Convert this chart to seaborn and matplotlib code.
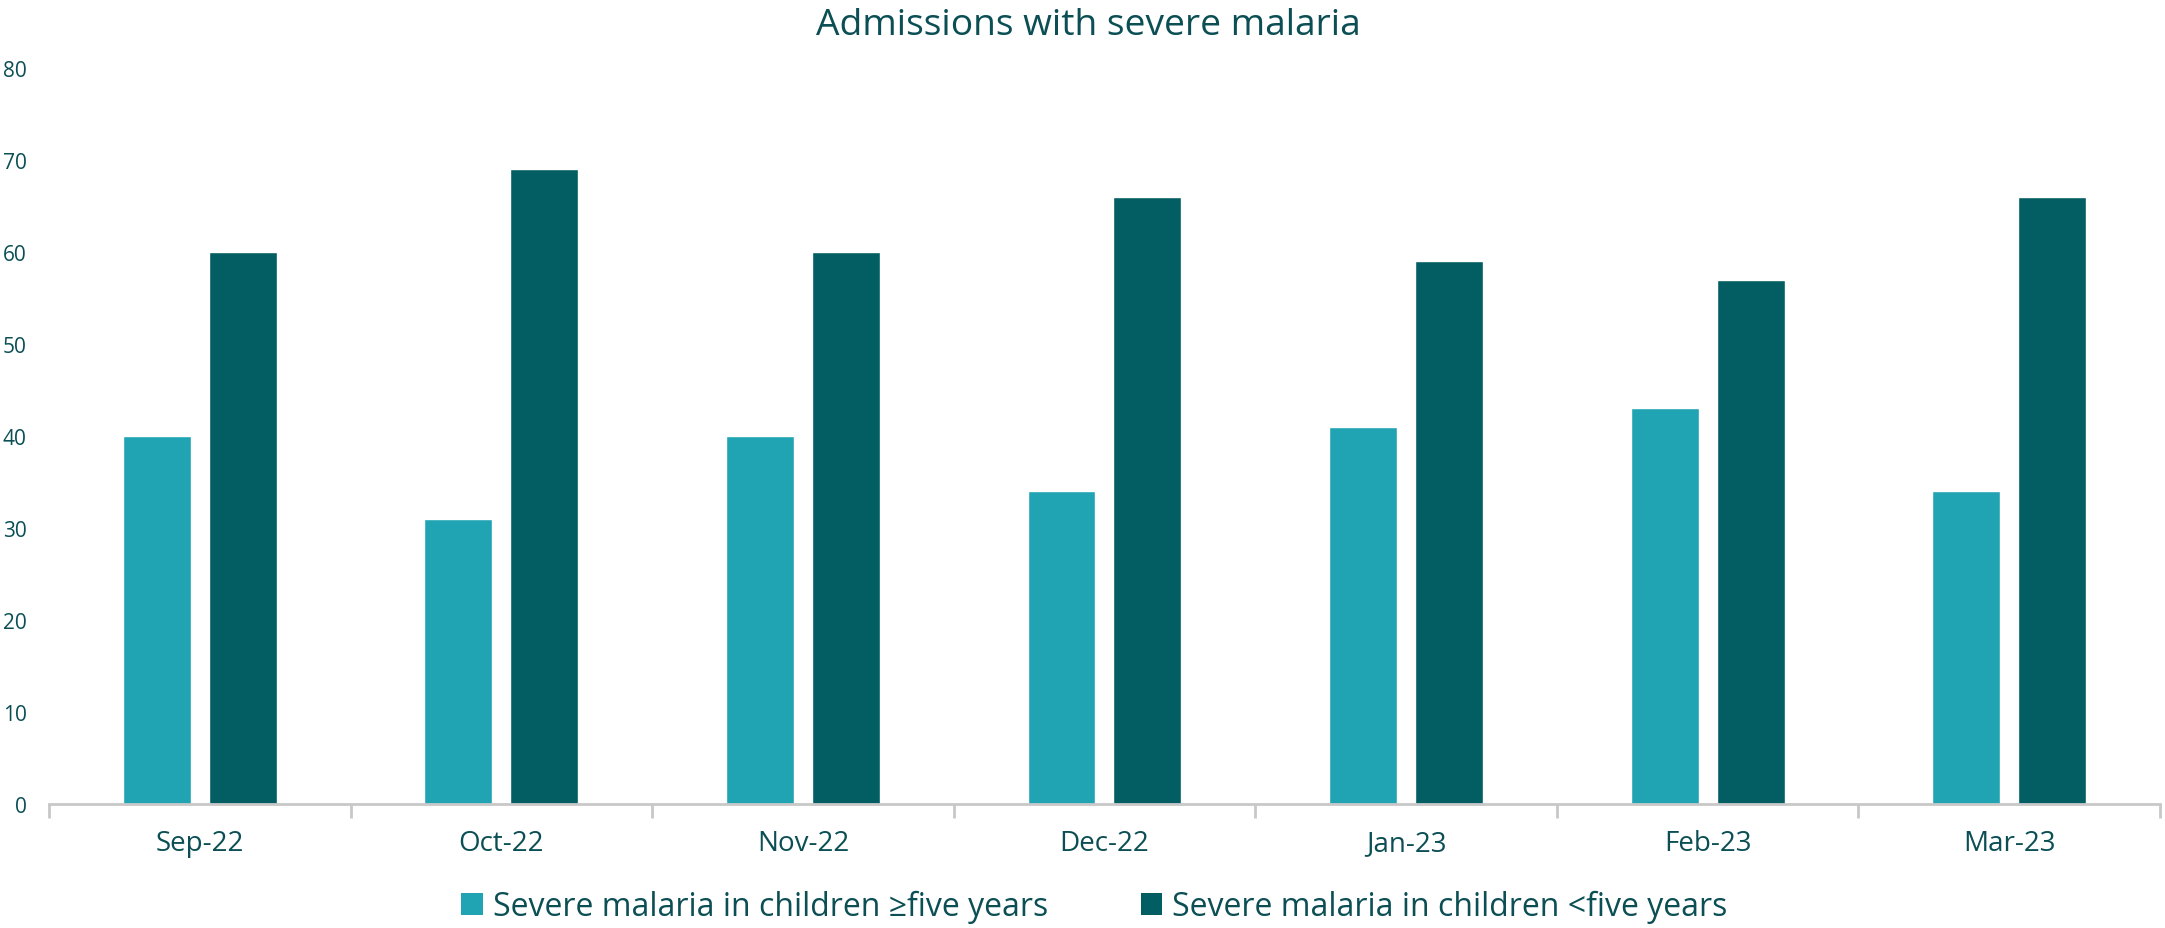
import matplotlib
matplotlib.use("Agg")
import matplotlib.pyplot as plt
import seaborn as sns
import pandas as pd
from matplotlib.patches import Patch
from matplotlib.ticker import FixedLocator

months = ["Sep-22", "Oct-22", "Nov-22", "Dec-22", "Jan-23", "Feb-23", "Mar-23"]
series_names = ["Severe malaria in children \u2265five years",
                "Severe malaria in children <five years"]
over_five = [40, 31, 40, 34, 41, 43, 34]
under_five = [60, 69, 60, 66, 59, 57, 66]
y_ticks = [0, 10, 20, 30, 40, 50, 60, 70, 80]

colors = ["#20A4B3", "#025E63"]
text_color = "#0B4F55"

df = pd.DataFrame({
    "month": months * 2,
    "series": [series_names[0]] * len(months) + [series_names[1]] * len(months),
    "value": over_five + under_five,
})

sns.set_theme(style="white")
plt.rcParams["font.family"] = ["Open Sans", "DejaVu Sans"]

fig = plt.figure(figsize=(21.65, 9.29), dpi=100)
ax = fig.add_axes([0.0226, 0.1335, 0.9751, 0.7922])

sns.barplot(data=df, x="month", y="value", hue="series", order=months,
            hue_order=series_names, palette=colors, width=0.57, gap=0.21,
            saturation=1, legend=False, ax=ax)

ax.set_xlim(-0.5, len(months) - 0.5)
ax.set_ylim(0, 80)
ax.set_yticks(y_ticks)
ax.set_xlabel("")
ax.set_ylabel("")

for side in ["top", "right", "left"]:
    ax.spines[side].set_visible(False)
ax.spines["bottom"].set_color("#C8C8C8")
ax.spines["bottom"].set_linewidth(2)

ax.tick_params(axis="y", length=0, pad=16, labelsize=15, labelcolor=text_color)
ax.tick_params(axis="x", which="major", length=0, pad=18, labelsize=20,
               labelcolor=text_color)
ax.xaxis.set_minor_locator(FixedLocator([i - 0.5 for i in range(len(months) + 1)]))
ax.tick_params(axis="x", which="minor", length=10, width=2, color="#C8C8C8",
               bottom=True)

fig.text(0.5025, 0.972, "Admissions with severe malaria", fontsize=26.7,
         color=text_color, ha="center", va="center")

handles = [Patch(facecolor=c, edgecolor="none") for c in colors]
fig.legend(handles, series_names, loc="center", bbox_to_anchor=(0.5055, 0.023),
           ncol=2, frameon=False, fontsize=23, labelcolor=text_color,
           handlelength=0.66, handleheight=0.66, handletextpad=0.32,
           columnspacing=2.9)

fig.savefig("out.png", dpi=100)
